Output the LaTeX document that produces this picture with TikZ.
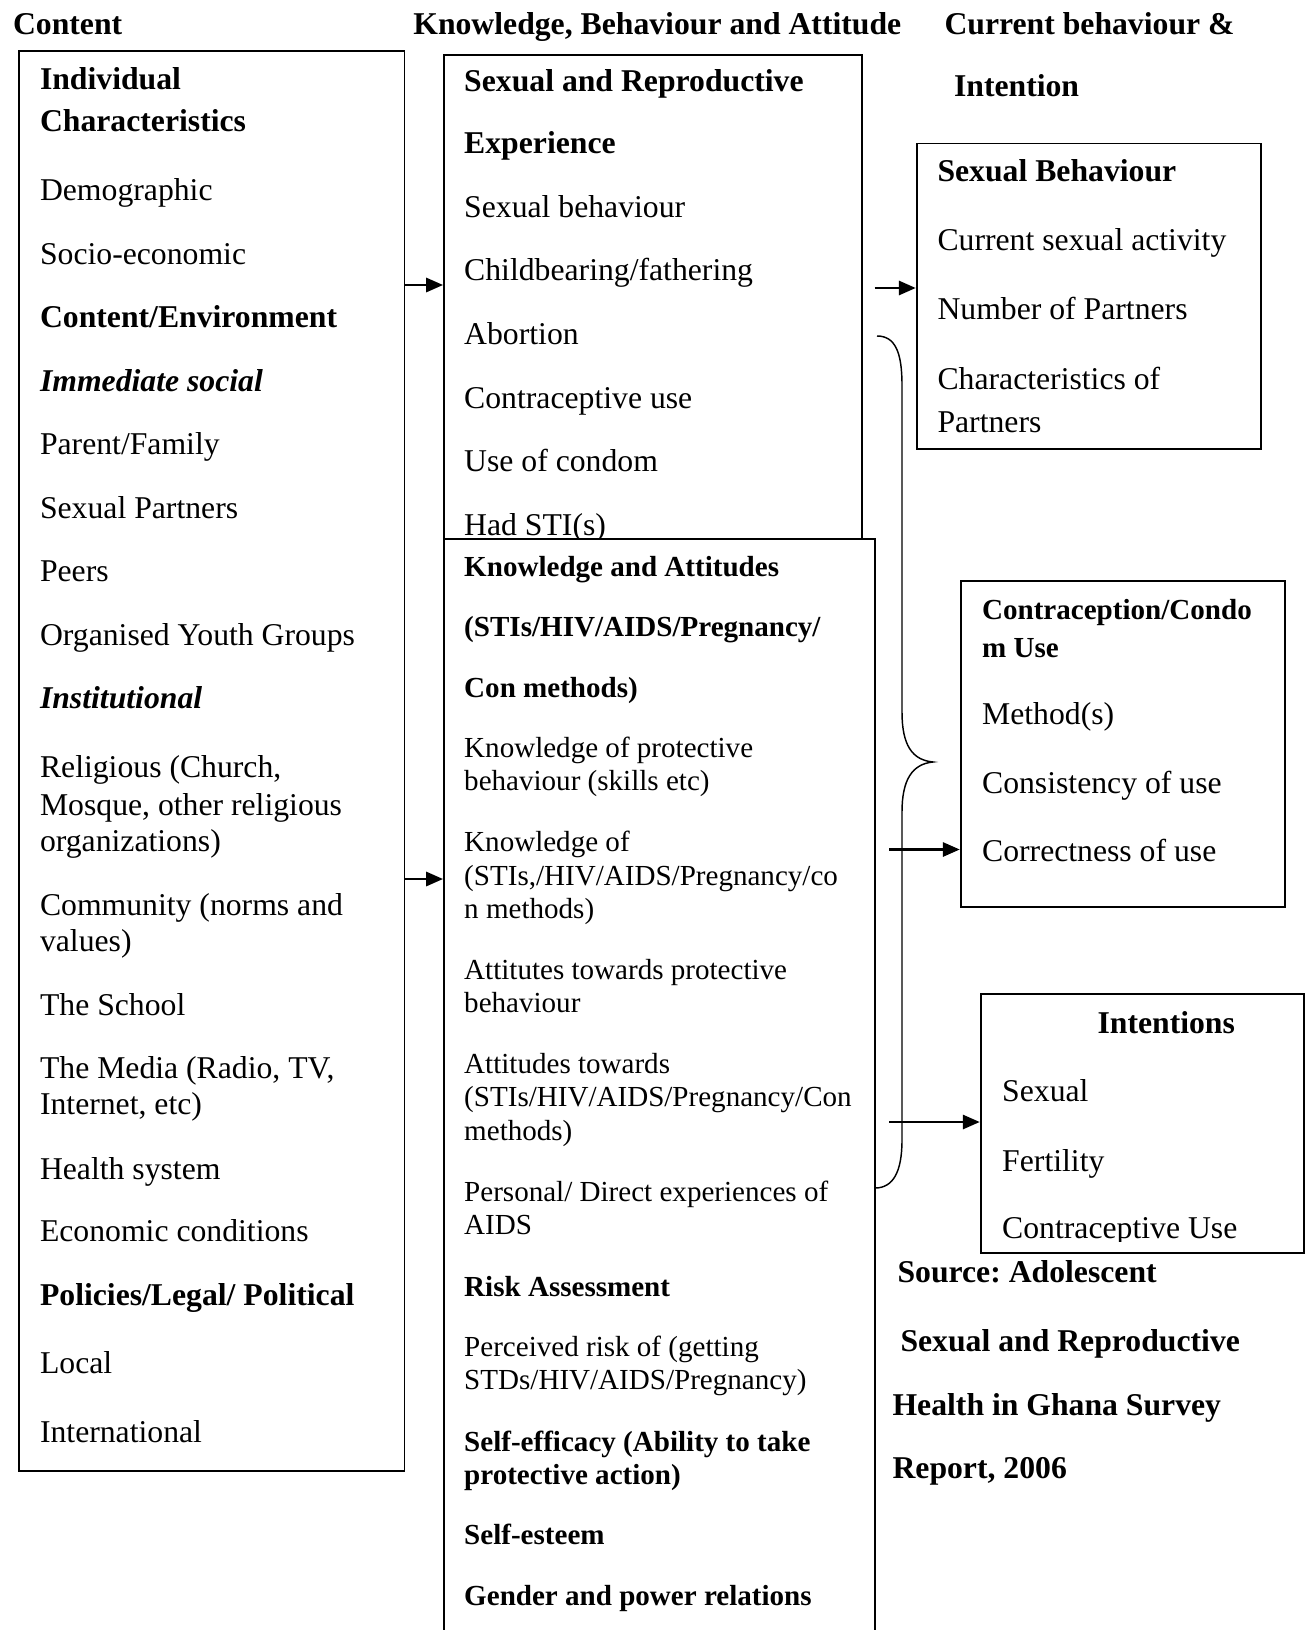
\documentclass[tikz,border=0pt]{standalone}
\usepackage{fontspec}
\setmainfont{Liberation Serif}
\usetikzlibrary{arrows.meta,fit}
\frenchspacing

\tikzset{
    box/.style={draw, line width=0.75pt, inner sep=0pt},
    txt/.style={anchor=base west, inner sep=0pt, font=\fontsize{12pt}{14pt}\selectfont},
    stxt/.style={txt, font=\fontsize{11pt}{13pt}\selectfont},
    arr/.style={-{Triangle[length=6.4pt,width=5.4pt]}, line width=0.85pt},
    brc/.style={line width=0.55pt}
}

\begin{document}
\begin{tikzpicture}[x=0.3785pt,y=-0.3785pt]
    \useasboundingbox (0,0) rectangle (1306,1630);
    \clip (0,0) rectangle (1306,1630);
    % column headings
    \node[txt] (hd1) at (12.5,34.5) {\textbf{Content}};
    \node[txt] (hd2) at (412.8,34.5) {\textbf{Knowledge, Behaviour and Attitude}};
    \node[txt] (hd3) at (944,34.5) {\textbf{Current behaviour \&}};
    \node[txt] (hd4) at (953.5,96.8) {\textbf{Intention}};

    % content
    \node[box, fit={(18.7,51) (404.5,1471)}] (ctx) {};
    \foreach \t/\y [count=\i] in {{\textbf{Individual}}/89.6, {\textbf{Characteristics}}/131.2,
        {Demographic}/200.8, {Socio-economic}/264.3, {\textbf{Content/Environment}}/327.7,
        {\textbf{\textit{Immediate social}}}/391.1, {Parent/Family}/454.5, {Sexual Partners}/518,
        {Peers}/581.4, {Organised Youth Groups}/645.9, {\textbf{\textit{Institutional}}}/708.2,
        {Religious (Church,}/777.9, {Mosque, other religious}/815.3, {organizations)}/851.7,
        {Community (norms and}/915.2, {values)}/951.6, {The School}/1015,
        {The Media (Radio, TV,}/1078.4, {Internet, etc)}/1114.8, {Health system}/1179.3,
        {Economic conditions}/1241.7, {\textbf{Policies/Legal/ Political}}/1305.1,
        {Local}/1373.7, {International}/1442.3}
        \node[txt] (ctx\i) at (39.5,\y) {\t};

    % experience
    \node[box, fit={(444,55) (862,538.6)}] (exp) {};
    \foreach \t/\y [count=\i] in {{\textbf{Sexual and Reproductive}}/91.6, {\textbf{Experience}}/154,
        {Sexual behaviour}/217.5, {Childbearing/fathering}/280.9, {Abortion}/344.3,
        {Contraceptive use}/408.8, {Use of condom}/471.2, {Had STI(s)}/535.6}
        \node[txt] (exp\i) at (463.7,\y) {\t};

    % knowledge and attitudes
    \node[box, fill=white, fit={(444,538.6) (874.5,1660)}] (kno) {};
    \foreach \t/\y [count=\i] in {{\textbf{Knowledge and Attitudes}}/576.4,
        {\textbf{(STIs/HIV/AIDS/Pregnancy/}}/636.7, {\textbf{Con methods)}}/697,
        {Knowledge of protective}/757.4, {behaviour (skills etc)}/790.6,
        {Knowledge of}/851, {(STIs,/HIV/AIDS/Pregnancy/co}/885.3, {n methods)}/918.5,
        {Attitutes towards protective}/979.9, {behaviour}/1012.1,
        {Attitudes towards}/1073.5, {(STIs/HIV/AIDS/Pregnancy/Con}/1106.7, {methods)}/1140,
        {Personal/ Direct experiences of}/1201.4, {AIDS}/1234.6,
        {\textbf{Risk Assessment}}/1296, {Perceived risk of (getting}/1356.3,
        {STDs/HIV/AIDS/Pregnancy)}/1389.6, {\textbf{Self-efficacy (Ability to take}}/1451,
        {\textbf{protective action)}}/1484.2, {\textbf{Self-esteem}}/1544.5,
        {\textbf{Gender and power relations}}/1605.8}
        \node[stxt] (kno\i) at (463.7,\y) {\t};

    % sexual behaviour
    \node[box, fit={(916.7,143.5) (1260.5,449)}] (beh) {};
    \foreach \t/\y [count=\i] in {{\textbf{Sexual Behaviour}}/182, {Current sexual activity}/250,
        {Number of Partners}/319, {Characteristics of}/389, {Partners}/432}
        \node[txt] (beh\i) at (937,\y) {\t};

    % contraception
    \node[box, fit={(960.7,581) (1285,907)}] (con) {};
    \node[stxt] (con1) at (981.6,619.5) {\textbf{Contraception/Condo}};
    \node[stxt] (con2) at (981.6,657) {\textbf{m Use}};
    \foreach \t/\y [count=\i from 3] in {{Method(s)}/724, {Consistency of use}/793, {Correctness of use}/861.5}
        \node[txt] (con\i) at (981.6,\y) {\t};

    % intentions
    \node[box, fit={(980.7,993.5) (1304,1253)}] (itn) {};
    \node[txt] (itn1) at (1097,1033) {\textbf{Intentions}};
    \node[txt] (itn2) at (1001.7,1101) {Sexual};
    \node[txt] (itn3) at (1001.7,1171) {Fertility};
    \begin{scope}
        \clip (980,990) rectangle (1304,1241);
        \node[txt] (itn4) at (1001.7,1238) {Contraceptive Use};
    \end{scope}

    % source
    \node[txt] (src1) at (897,1282) {\textbf{Source: Adolescent}};
    \node[txt] (src2) at (900,1351) {\textbf{Sexual and Reproductive}};
    \node[txt] (src3) at (892,1415) {\textbf{Health in Ghana Survey}};
    \node[txt] (src4) at (892,1478) {\textbf{Report, 2006}};

    % brace
    \draw[brc] (877,336) .. controls (895,336) and (902,352) .. (902,385) -- (902,712)
        .. controls (902,745) and (912,760) .. (933,762)
        .. controls (912,764) and (902,780) .. (902,812) -- (902,1140)
        .. controls (902,1172) and (893,1188) .. (875,1188);

    % arrows
    \draw[arr] (ctx.east |- 0,285) -- (exp.west |- 0,285);
    \draw[arr] (ctx.east |- 0,879) -- (kno.west |- 0,879);
    \coordinate (b1) at (874.5,288);
    \coordinate (b2) at (889,849.5);
    \coordinate (b3) at (889,1122);
    \draw[arr] (b1) -- (beh.west |- b1);
    \draw[arr] (b2) -- (con.west |- b2);
    \draw[arr] (b3) -- (itn.west |- b3);
\end{tikzpicture}
\end{document}
